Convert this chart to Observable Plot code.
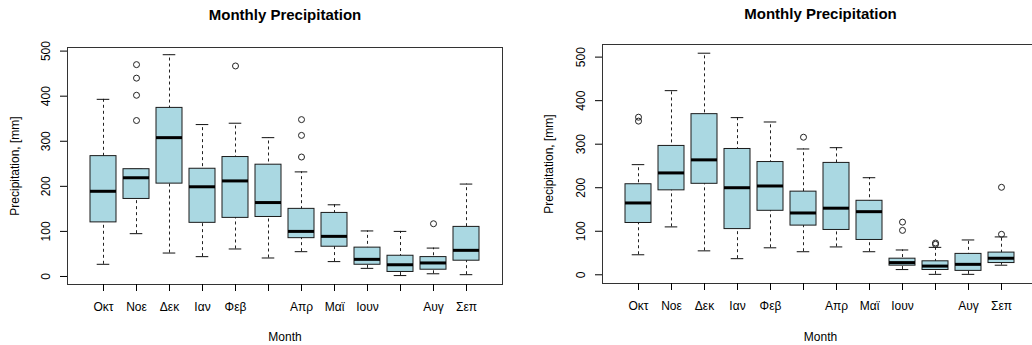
<!DOCTYPE html>
<html><head><meta charset="utf-8">
<script src="https://cdn.jsdelivr.net/npm/d3@7"></script>
<script src="https://cdn.jsdelivr.net/npm/@observablehq/plot@0.6"></script>
<style>
html,body{margin:0;padding:0;background:#fff;overflow:hidden;width:1032px;height:345px}
#wrap{position:relative;width:1032px;height:345px;overflow:hidden}
#wrap > svg{position:absolute;top:0}
</style>
</head><body><div id="wrap"></div>
<script>
// Months (hydrological year) and the labels R managed to draw
const months = ["Οκτ","Νοε","Δεκ","Ιαν","Φεβ","Μαρ","Απρ","Μαϊ","Ιουν","Ιουλ","Αυγ","Σεπ"];
const tickLabels = ["Οκτ","Νοε","Δεκ","Ιαν","Φεβ","","Απρ","Μαϊ","Ιουν","","Αυγ","Σεπ"];
const yTicks = [0, 100, 200, 300, 400, 500];

// Panel 1 box statistics (mm)
const lo1  = [27, 95, 52, 44, 61, 41, 55, 33, 18, 2, 6, 4];
const q1_1 = [120, 172, 206, 119, 130, 132, 85, 66, 26, 10, 15, 35];
const med1 = [189, 219, 308, 199, 212, 164, 100, 89, 38, 26, 30, 58];
const q3_1 = [267, 238, 374, 239, 265, 248, 150, 141, 64, 46, 43, 110];
const hi1  = [393, 238, 492, 337, 340, 308, 232, 159, 101, 100, 63, 205];
const outliers1 = [["Νοε",470],["Νοε",440],["Νοε",402],["Νοε",346],["Φεβ",467],["Απρ",348],["Απρ",313],["Απρ",265],["Αυγ",117]];

// Panel 2 box statistics (mm)
const lo2  = [46, 110, 55, 37, 62, 53, 64, 53, 12, 1, 1, 22];
const q1_2 = [119, 194, 209, 105, 147, 113, 103, 80, 21, 11, 9, 27];
const med2 = [165, 234, 264, 200, 204, 142, 153, 145, 28, 20, 24, 38];
const q3_2 = [208, 296, 369, 289, 259, 191, 257, 170, 37, 31, 48, 51];
const hi2  = [253, 423, 509, 361, 351, 289, 292, 223, 57, 63, 80, 87];
const outliers2 = [["Οκτ",362],["Οκτ",353],["Μαρ",316],["Ιουν",121],["Ιουν",102],["Ιουλ",73],["Ιουλ",70],["Σεπ",201],["Σεπ",93]];

function stats(lo, q1, med, q3, hi) {
  return months.map((m, i) => ({month: m, lo: lo[i], q1: q1[i], med: med[i], q3: q3[i], hi: hi[i]}));
}

function panel({data, outliers, width, ml, mr, mt, mb, ydom, po, titleDy, monthDy, yLabDx}) {
  const bw = (width - ml - mr) / (12 - 0.2 + 2 * po) * 0.8;
  return Plot.plot({
    width, height: 345,
    marginLeft: ml, marginRight: mr, marginTop: mt, marginBottom: mb,
    style: {fontFamily: "'Liberation Sans', Arial, sans-serif", fontSize: "12px", background: "transparent", color: "#000", overflow: "visible"},
    x: {type: "band", domain: months, paddingInner: 0.2, paddingOuter: po, align: 0.5},
    y: {domain: ydom},
    marks: [
      Plot.ruleX(data, {x: "month", y1: "lo", y2: "hi", stroke: "#222", strokeWidth: 1, strokeDasharray: "3,3"}),
      Plot.tickY(data, {x: "month", y: "lo", stroke: "#111", insetLeft: bw / 4, insetRight: bw / 4}),
      Plot.tickY(data, {x: "month", y: "hi", stroke: "#111", insetLeft: bw / 4, insetRight: bw / 4}),
      Plot.barY(data, {x: "month", y1: "q1", y2: "q3", fill: "#aad8e2", stroke: "#1a1a1a", strokeWidth: 1}),
      Plot.tickY(data, {x: "month", y: "med", stroke: "#000", strokeWidth: 3}),
      Plot.dot(outliers, {x: d => d[0], y: d => d[1], r: 3, stroke: "#222", fill: "none", strokeWidth: 1}),
      Plot.frame({stroke: "#333"}),
      Plot.axisX({tickSize: 7, tickPadding: 11, fontSize: 12, tickFormat: (d) => tickLabels[months.indexOf(d)], label: null}),
      Plot.axisY({ticks: yTicks, tickSize: 7, tickPadding: 11, tickRotate: -90, fontSize: 12, label: null}),
      Plot.text(["Monthly Precipitation"], {text: d => d, frameAnchor: "top", lineAnchor: "middle", dy: titleDy, fontWeight: "bold", fontSize: 15}),
      Plot.text(["Month"], {text: d => d, frameAnchor: "bottom", lineAnchor: "middle", dy: monthDy, fontSize: 12}),
      Plot.text(["Precipitation, [mm]"], {text: d => d, frameAnchor: "left", textAnchor: "middle", lineAnchor: "middle", dx: yLabDx, rotate: -90, fontSize: 12})
    ]
  });
}

const wrap = document.getElementById("wrap");
const p1 = panel({data: stats(lo1, q1_1, med1, q3_1, hi1), outliers: outliers1, width: 516, ml: 67, mr: 14, mt: 47, mb: 61, ydom: [-17.8, 508], po: 0.583, titleDy: -32, monthDy: 53, yLabDx: -52});
p1.style.left = "0px";
wrap.appendChild(p1);
const p2 = panel({data: stats(lo2, q1_2, med2, q3_2, hi2), outliers: outliers2, width: 522, ml: 86, mr: 0, mt: 44, mb: 62, ydom: [-20, 529], po: 0.588, titleDy: -30, monthDy: 54, yLabDx: -53});
p2.style.left = "516px";
wrap.appendChild(p2);
</script></body></html>
